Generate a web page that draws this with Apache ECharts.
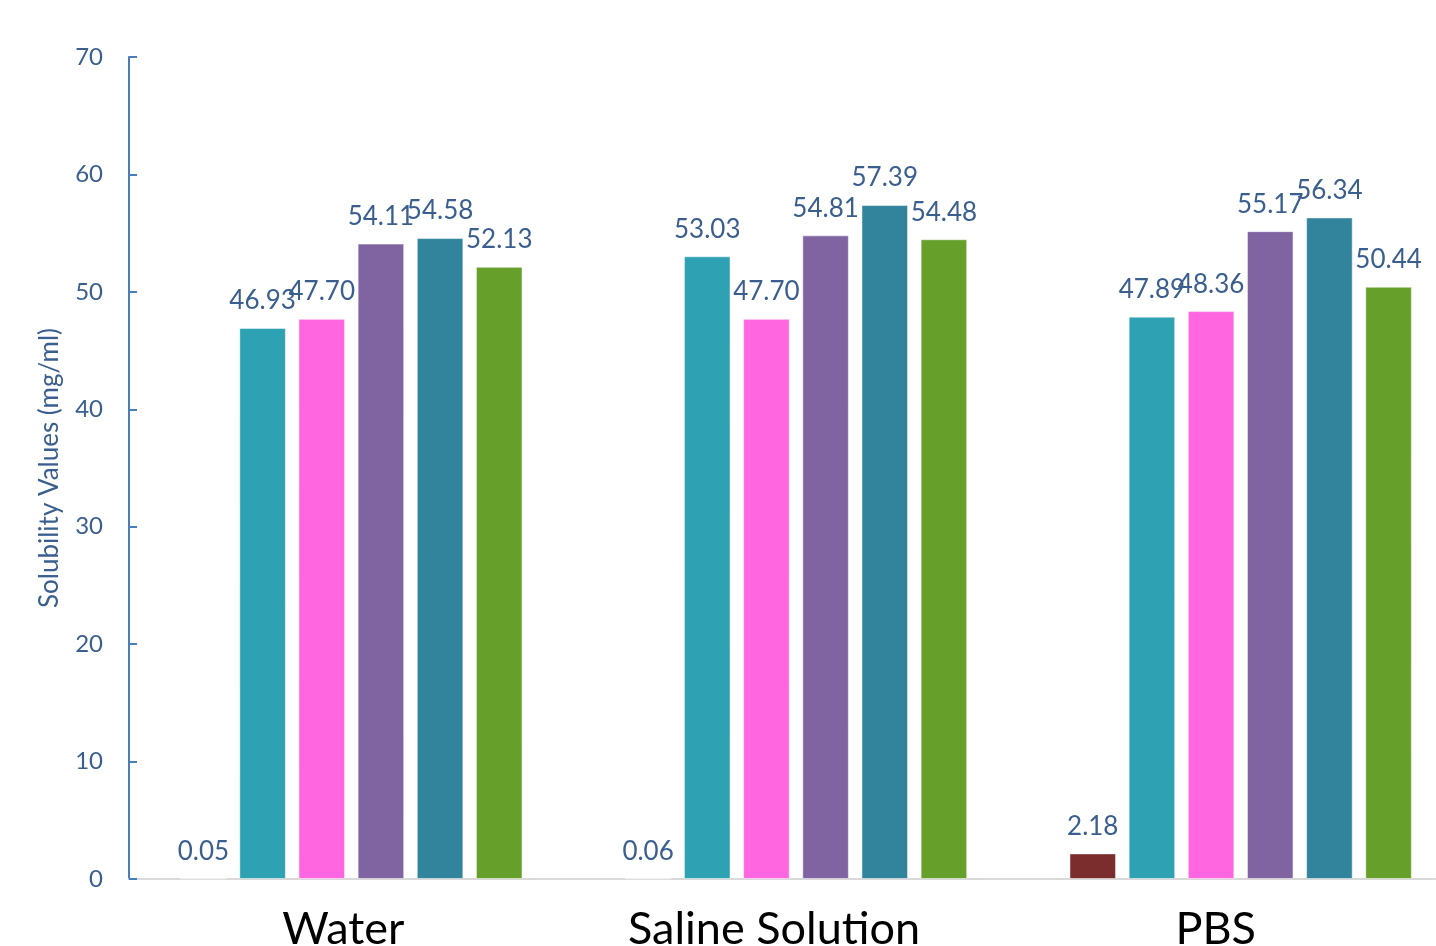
<!DOCTYPE html>
<html>
<head>
<meta charset="utf-8">
<script src="https://cdn.jsdelivr.net/npm/echarts@6/dist/echarts.min.js"></script>
<style>
html,body{margin:0;padding:0;background:#fff;overflow:hidden;width:1436px;height:946px;}
#chart{width:1463px;height:946px;}
</style>
</head>
<body>
<div id="chart"></div>
<script>
const categories = ['Water', 'Saline Solution', 'PBS'];
const seriesA = [0.05, 0.06, 2.18];
const seriesB = [46.93, 53.03, 47.89];
const seriesC = [47.70, 47.70, 48.36];
const seriesD = [54.11, 54.81, 55.17];
const seriesE = [54.58, 57.39, 56.34];
const seriesF = [52.13, 54.48, 50.44];
const yTicks = [0, 10, 20, 30, 40, 50, 60, 70];
const colors = ['#7B2C2C', '#2EA1B3', '#FF66E0', '#8064A2', '#31849B', '#669F2A'];

const FONT = 'Lato, "Open Sans", sans-serif';
const allSeries = [seriesA, seriesB, seriesC, seriesD, seriesE, seriesF];
// horizontal nudges (left) of the category labels, as seen in the reference
const labelShift = [16, 44, 50];

const chart = echarts.init(document.getElementById('chart'));
chart.setOption({
  animation: false,
  backgroundColor: '#ffffff',
  grid: { left: 129, right: 0, top: 57, bottom: 67, containLabel: false, outerBoundsMode: 'none' },
  xAxis: {
    type: 'category',
    data: categories.map((c, i) => ({ value: c, textStyle: { padding: [0, labelShift[i], 0, 0] } })),
    axisLine: { show: true, lineStyle: { color: '#D9D9D9', width: 2 } },
    axisTick: { show: false },
    axisLabel: { color: '#000000', fontSize: 45, fontFamily: FONT, margin: 28 }
  },
  yAxis: {
    type: 'value',
    min: yTicks[0],
    max: yTicks[yTicks.length - 1],
    interval: 10,
    name: 'Solubility Values (mg/ml)',
    nameLocation: 'middle',
    nameGap: 66,
    nameTextStyle: { color: '#3A5F8F', fontSize: 26, fontFamily: FONT },
    axisLine: { show: true, lineStyle: { color: '#4A7EBB', width: 2 } },
    axisTick: { show: true, inside: true, length: 8, lineStyle: { color: '#4A7EBB', width: 2 } },
    splitLine: { show: false },
    axisLabel: { color: '#3A5F8F', fontSize: 24, fontFamily: FONT, margin: 26 }
  },
  series: allSeries.map((d, i) => ({
    type: 'bar',
    data: d,
    barGap: '27%',
    barCategoryGap: '23%',
    itemStyle: { color: colors[i], borderColor: 'rgba(255,255,255,0.5)', borderWidth: 1 },
    label: {
      show: true,
      position: 'top',
      distance: 14,
      color: '#3A5F8F',
      fontSize: 26,
      fontFamily: FONT,
      formatter: p => p.value.toFixed(2)
    }
  }))
});
</script>
</body>
</html>
